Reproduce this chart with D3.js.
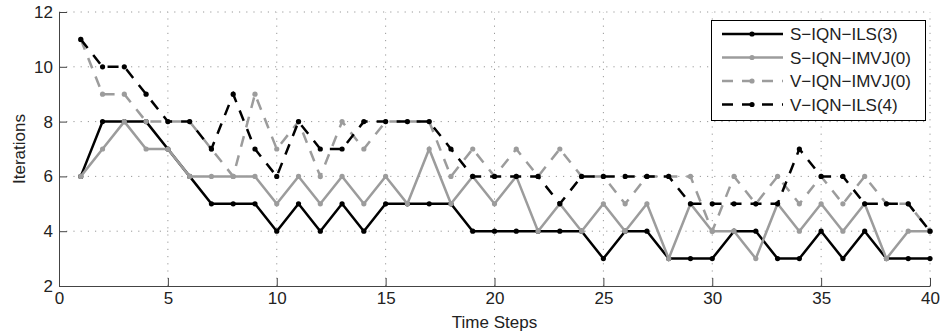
<!DOCTYPE html>
<meta charset="utf-8">
<script src="https://cdn.jsdelivr.net/npm/d3@7/dist/d3.min.js"></script>
<style>
    body { margin: 0; background: #fff; }
    text { font-family: "Liberation Sans", Arial, sans-serif; fill: #222; }
    .axis path, .axis line { stroke: #444; stroke-width: 1px; }
    .axis text { font-size: 17px; fill: #222; }
    .grid line { stroke: #999; stroke-width: 1px; stroke-dasharray: 1.2, 6; }
</style>

<body>
    <script>
        // time steps and iteration counts
        var steps = d3.range(1, 41);
        var sIls3 = [6, 8, 8, 8, 7, 6, 5, 5, 5, 4, 5, 4, 5, 4, 5, 5, 5, 5, 4, 4,
            4, 4, 4, 4, 3, 4, 4, 3, 3, 3, 4, 4, 3, 3, 4, 3, 4, 3, 3, 3];
        var sImvj0 = [6, 7, 8, 7, 7, 6, 6, 6, 6, 5, 6, 5, 6, 5, 6, 5, 7, 5, 6, 5,
            6, 4, 5, 4, 5, 4, 5, 3, 5, 4, 4, 3, 5, 4, 5, 4, 5, 3, 4, 4];
        var vImvj0 = [11, 9, 9, 8, 8, 8, 7, 6, 9, 7, 8, 6, 8, 7, 8, 8, 8, 6, 7, 6,
            7, 6, 7, 6, 6, 5, 6, 6, 6, 4, 6, 5, 6, 5, 6, 5, 6, 5, 5, 4];
        var vIls4 = [11, 10, 10, 9, 8, 8, 7, 9, 7, 6, 8, 7, 7, 8, 8, 8, 8, 7, 6, 6,
            6, 6, 5, 6, 6, 6, 6, 6, 5, 5, 5, 5, 5, 7, 6, 6, 5, 5, 5, 4];

        var seriesNames = ["S\u2212IQN\u2212ILS(3)", "S\u2212IQN\u2212IMVJ(0)", "V\u2212IQN\u2212IMVJ(0)", "V\u2212IQN\u2212ILS(4)"];
        var seriesValues = [sIls3, sImvj0, vImvj0, vIls4];
        var xTicks = [0, 5, 10, 15, 20, 25, 30, 35, 40];
        var yTicks = [2, 4, 6, 8, 10, 12];

        var styles = [
            { color: "#000", dash: null },
            { color: "#9c9c9c", dash: null },
            { color: "#9c9c9c", dash: "11,9" },
            { color: "#000", dash: "11,9" }
        ];

        var width = 943,
            height = 334;

        var x = d3.scaleLinear().domain([0, 40]).range([59, 930]);
        var y = d3.scaleLinear().domain([2, 12]).range([286, 12]);

        var svg = d3.select("body").append("svg")
            .attr("width", width)
            .attr("height", height);

        // dotted grid
        var grid = svg.append("g").attr("class", "grid");
        grid.selectAll("line.v")
            .data(xTicks.slice(1))
            .enter().append("line")
            .attr("x1", function (d) { return x(d); })
            .attr("x2", function (d) { return x(d); })
            .attr("y1", y(2)).attr("y2", y(12));
        grid.selectAll("line.h")
            .data(yTicks.slice(1))
            .enter().append("line")
            .attr("x1", x(0)).attr("x2", x(40))
            .attr("y1", function (d) { return y(d); })
            .attr("y2", function (d) { return y(d); });

        // axes, ticks pointing inwards
        svg.append("g")
            .attr("class", "axis")
            .attr("transform", "translate(0," + y(2) + ")")
            .call(d3.axisBottom(x).tickValues(xTicks).tickSizeInner(-8).tickSizeOuter(0).tickPadding(6));

        svg.append("g")
            .attr("class", "axis")
            .attr("transform", "translate(" + x(0) + ",0)")
            .call(d3.axisLeft(y).tickValues(yTicks).tickSizeInner(-8).tickSizeOuter(0).tickPadding(6));

        svg.selectAll(".axis .domain").attr("stroke", "#444");

        svg.append("text")
            .text("Time Steps")
            .attr("x", (x(0) + x(40)) / 2)
            .attr("y", 328)
            .style("text-anchor", "middle")
            .style("font-size", "17px");

        svg.append("text")
            .text("Iterations")
            .attr("transform", "translate(25," + (y(2) + y(12)) / 2 + ") rotate(-90)")
            .style("text-anchor", "middle")
            .style("font-size", "17px");

        var line = d3.line()
            .x(function (d) { return x(d.step); })
            .y(function (d) { return y(d.value); });

        seriesValues.forEach(function (vals, i) {
            var pts = steps.map(function (s, j) { return { step: s, value: vals[j] }; });
            var g = svg.append("g");
            g.append("path")
                .datum(pts)
                .attr("d", line)
                .attr("fill", "none")
                .attr("stroke", styles[i].color)
                .attr("stroke-width", 2.5)
                .attr("stroke-dasharray", styles[i].dash);
            g.selectAll("circle")
                .data(pts)
                .enter().append("circle")
                .attr("cx", function (d) { return x(d.step); })
                .attr("cy", function (d) { return y(d.value); })
                .attr("r", 2.6)
                .attr("fill", styles[i].color);
        });

        // legend
        var legend = svg.append("g");
        legend.append("rect")
            .attr("x", 711.5).attr("y", 20.5)
            .attr("width", 214).attr("height", 100)
            .attr("fill", "#fff")
            .attr("stroke", "#000")
            .attr("stroke-width", 1);

        seriesNames.forEach(function (name, i) {
            var cy = 34 + i * 23.5;
            legend.append("line")
                .attr("x1", 722).attr("x2", 783)
                .attr("y1", cy).attr("y2", cy)
                .attr("stroke", styles[i].color)
                .attr("stroke-width", 2.5)
                .attr("stroke-dasharray", styles[i].dash);
            legend.append("circle")
                .attr("cx", 752).attr("cy", cy)
                .attr("r", 2.6)
                .attr("fill", styles[i].color);
            legend.append("text")
                .text(name)
                .attr("x", 790)
                .attr("y", cy + 6)
                .style("font-size", "17px");
        });
    </script>
</body>

</html>
